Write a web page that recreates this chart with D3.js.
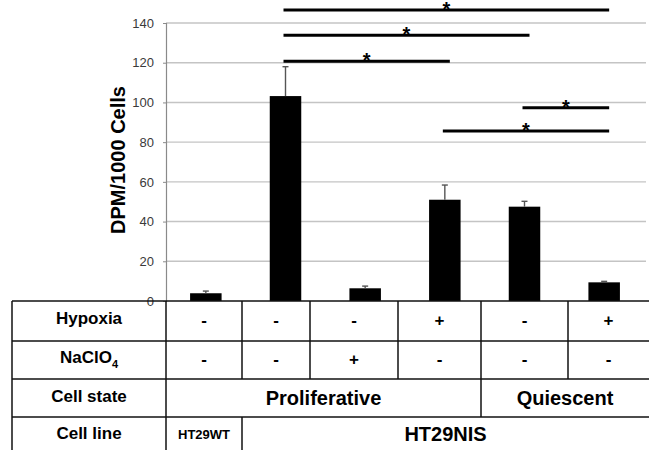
<!DOCTYPE html>
<html>
<head>
<meta charset="utf-8">
<script src="https://cdn.jsdelivr.net/npm/d3@7"></script>
<style>
  html, body { margin: 0; padding: 0; background: #fff; }
  svg { display: block; font-family: "Liberation Sans", Arial, sans-serif; }
</style>
</head>
<body>
<svg id="chart" width="649" height="450"></svg>
<script>
// bars: one per condition, left to right
const groups = ['WT', 'NIS', 'NIS NaClO4', 'NIS hypoxia', 'NIS quiescent', 'NIS quiescent hypoxia'];
const means = [3.9, 103.2, 6.4, 51.0, 47.5, 9.4];
const errors = [1.1, 14.8, 1.1, 7.4, 2.7, 0.5];
const yTicks = [0, 20, 40, 60, 80, 100, 120, 140];

// significance brackets (index of bars, height in data units)
const sigPairs = [
	{ a: 1, b: 5, y: 146.5 },
	{ a: 1, b: 4, y: 133.8 },
	{ a: 1, b: 3, y: 120.8 },
	{ a: 4, b: 5, y: 97.3 },
	{ a: 3, b: 5, y: 85.6 }
];

// table under the chart
const hypoxia = ['-', '-', '-', '+', '-', '+'];
const naclo4 = ['-', '-', '+', '-', '-', '-'];
const cellState = [
	{ label: 'Proliferative', from: 0, to: 3 },
	{ label: 'Quiescent', from: 4, to: 5 }
];
const cellLine = [
	{ label: 'HT29WT', from: 0, to: 0 },
	{ label: 'HT29NIS', from: 1, to: 5 }
];

const svg = d3.select('#chart');
const width = +svg.attr('width');

const x = d3.scaleBand().domain(d3.range(groups.length)).range([166, 644]);
const y = d3.scaleLinear().domain([0, 140]).range([301, 23]);
const barW = 31.5;
const cx = i => x(i) + x.bandwidth() / 2;

// gridlines
svg.append('g')
	.selectAll('line')
	.data(yTicks.filter(t => t > 0))
	.join('line')
	.attr('x1', 166)
	.attr('x2', 646)
	.attr('y1', d => y(d))
	.attr('y2', d => y(d))
	.attr('stroke', '#c4c4c4')
	.attr('stroke-width', 1.4);

// y axis
const yAxis = svg.append('g')
	.attr('transform', 'translate(166,0)')
	.call(d3.axisLeft(y).tickValues(yTicks).tickSize(3).tickPadding(9));
yAxis.select('.domain').attr('stroke', '#8a8a8a').attr('stroke-width', 1.2);
yAxis.selectAll('.tick line').attr('stroke', '#8a8a8a');
yAxis.selectAll('.tick text')
	.attr('fill', '#3a3a3a')
	.style('font-size', '13px')
	.style('font-family', '"Liberation Sans", Arial, sans-serif');

svg.append('text')
	.attr('transform', 'translate(125,160) rotate(-90)')
	.attr('text-anchor', 'middle')
	.style('font-size', '20px')
	.style('font-weight', 'bold')
	.text('DPM/1000 Cells');

// bars
svg.append('g')
	.selectAll('rect')
	.data(means)
	.join('rect')
	.attr('x', (d, i) => cx(i) - barW / 2)
	.attr('y', d => y(d))
	.attr('width', barW)
	.attr('height', d => y(0) - y(d))
	.attr('fill', '#000');

// error bars (upper only)
const eb = svg.append('g').attr('stroke', '#555').attr('stroke-width', 1.4);
means.forEach((m, i) => {
	eb.append('line')
		.attr('x1', cx(i)).attr('x2', cx(i))
		.attr('y1', y(m)).attr('y2', y(m + errors[i]));
	eb.append('line')
		.attr('x1', cx(i) - 3).attr('x2', cx(i) + 3)
		.attr('y1', y(m + errors[i])).attr('y2', y(m + errors[i]));
});

// significance lines
const sig = svg.append('g');
sigPairs.forEach(p => {
	const x1 = cx(p.a) - 2;
	const x2 = cx(p.b) + 5;
	sig.append('line')
		.attr('x1', x1).attr('x2', x2)
		.attr('y1', y(p.y)).attr('y2', y(p.y))
		.attr('stroke', '#000')
		.attr('stroke-width', 3);
	sig.append('text')
		.attr('x', (x1 + x2) / 2)
		.attr('y', y(p.y) + 6)
		.attr('text-anchor', 'middle')
		.style('font-size', '20px')
		.style('font-weight', 'bold')
		.text('*');
});

// ---- table ----
const colEdges = [166, 242, 310, 398, 481, 568, 649];
const rowEdges = [301, 341, 379, 417, 450];
const tableLeft = 12;
const tbl = svg.append('g');
const lineStyle = sel => sel.attr('stroke', '#111').attr('stroke-width', 1.5);

// horizontal rules
rowEdges.slice(0, 4).forEach(ry => {
	tbl.append('line').attr('x1', tableLeft).attr('x2', width)
		.attr('y1', ry).attr('y2', ry).call(lineStyle);
});
// outer left and label column
[tableLeft, colEdges[0]].forEach(vx => {
	tbl.append('line').attr('x1', vx).attr('x2', vx)
		.attr('y1', rowEdges[0]).attr('y2', 450).call(lineStyle);
});

const spanSeparators = (spans, r) => {
	spans.slice(1).forEach(s => {
		const vx = colEdges[s.from];
		tbl.append('line').attr('x1', vx).attr('x2', vx)
			.attr('y1', rowEdges[r]).attr('y2', rowEdges[r + 1]).call(lineStyle);
	});
};
// rows 0 and 1 have every column
[0, 1].forEach(r => {
	colEdges.slice(1, -1).forEach(vx => {
		tbl.append('line').attr('x1', vx).attr('x2', vx)
			.attr('y1', rowEdges[r]).attr('y2', rowEdges[r + 1]).call(lineStyle);
	});
});
spanSeparators(cellState, 2);
spanSeparators(cellLine, 3);

const rowMid = r => (rowEdges[r] + rowEdges[r + 1]) / 2;
const labelX = (tableLeft + colEdges[0]) / 2;

const addText = (tx, ty, str, size) => tbl.append('text')
	.attr('x', tx)
	.attr('y', ty)
	.attr('text-anchor', 'middle')
	.style('font-size', size + 'px')
	.style('font-weight', 'bold')
	.text(str);

addText(labelX, rowMid(0) + 3, 'Hypoxia', 17);
const na = addText(labelX, rowMid(1) + 3, 'NaClO', 17);
na.append('tspan').attr('dy', 5).style('font-size', '11px').text('4');
addText(labelX, rowMid(2) + 4, 'Cell state', 17);
addText(labelX, rowMid(3) + 5, 'Cell line', 17);

const colMid = i => (colEdges[i] + colEdges[i + 1]) / 2;
hypoxia.forEach((s, i) => addText(colMid(i), rowMid(0) + 5, s, 17));
naclo4.forEach((s, i) => addText(colMid(i), rowMid(1) + 5, s, 17));
cellState.forEach(s => addText((colEdges[s.from] + colEdges[s.to + 1]) / 2, rowMid(2) + 7, s.label, 20));
cellLine.forEach(s => {
	const small = s.to === s.from;
	addText((colEdges[s.from] + colEdges[s.to + 1]) / 2, rowMid(3) + (small ? 5 : 7), s.label, small ? 13 : 20);
});
</script>
</body>
</html>
